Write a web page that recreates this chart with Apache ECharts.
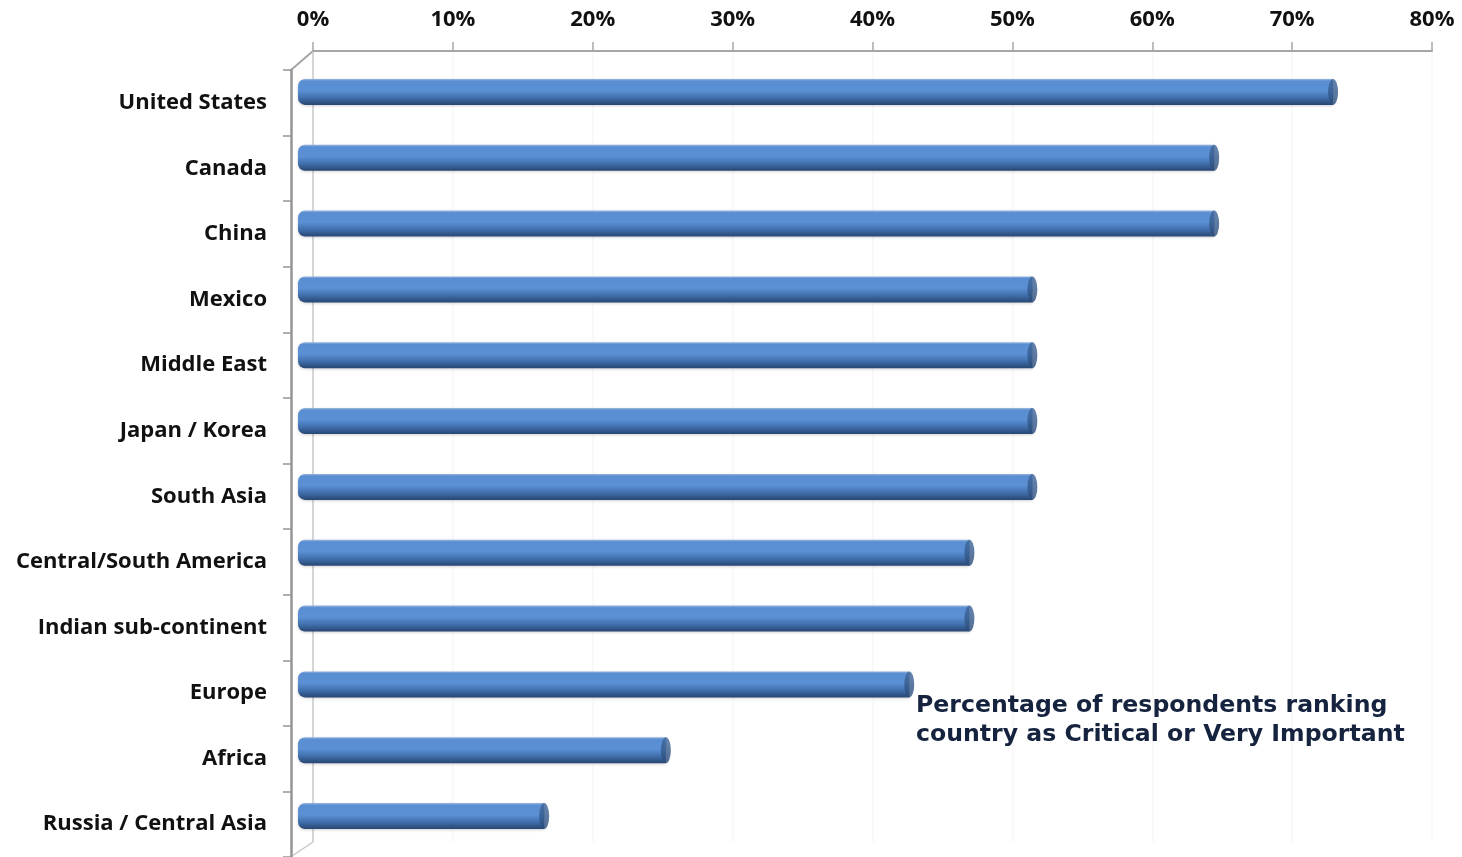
<!DOCTYPE html>
<html>
<head>
<meta charset="utf-8">
<title>Country importance</title>
<script src="https://cdn.jsdelivr.net/npm/echarts@6/dist/echarts.min.js"></script>
<style>
  html, body { margin: 0; padding: 0; background: #fff; }
  #main { width: 1462px; height: 857px; }
</style>
</head>
<body>
<div id="main"></div>
<script>
  var countries = ['United States', 'Canada', 'China', 'Mexico', 'Middle East', 'Japan / Korea',
    'South Asia', 'Central/South America', 'Indian sub-continent', 'Europe', 'Africa', 'Russia / Central Asia'];
  var shares = [74, 65.5, 65.5, 52.5, 52.5, 52.5, 52.5, 48, 48, 43.7, 26.3, 17.6];
  var axisMin = 0, axisMax = 80, axisStep = 10;
  var note = ['Percentage of respondents ranking', 'country as Critical or Very Important'];

  var chart = echarts.init(document.getElementById('main'));

  var gridColors = [];
  for (var i = 0; i <= (axisMax - axisMin) / axisStep; i++) {
    gridColors.push(i === 0 ? '#c8c8c8' : '#f7f7f7');
  }

  // end caps sit at the tip of each bar
  var caps = [];
  for (var j = 0; j < shares.length; j++) {
    caps.push([shares[j], countries[j]]);
  }

  var option = {
    backgroundColor: '#fff',
    animation: false,
    grid: [
      { left: 291, top: 70, width: 1119, height: 789 },   // category axis
      { left: 313, top: 51, right: 30, bottom: 15 },      // back wall + top axis
      { left: 298, top: 59, width: 1119, height: 790 }    // bars (front)
    ],
    xAxis: [
      { gridIndex: 0, type: 'value', min: axisMin, max: axisMax, show: false },
      {
        gridIndex: 1, type: 'value', position: 'top',
        min: axisMin, max: axisMax, interval: axisStep,
        axisLine: { show: true, onZero: false, lineStyle: { color: '#a6a6a6', width: 2 } },
        axisTick: { show: true, length: 9, lineStyle: { color: '#a6a6a6', width: 1.5 } },
        axisLabel: {
          formatter: '{value}%', margin: 20,
          fontFamily: 'Open Sans', fontWeight: 'bold', fontSize: 22, color: '#111'
        },
        splitLine: { show: true, lineStyle: { color: gridColors, width: 1.5 } }
      },
      { gridIndex: 2, type: 'value', min: axisMin, max: axisMax, show: false }
    ],
    yAxis: [
      {
        gridIndex: 0, type: 'category', inverse: true, data: countries,
        axisLine: { show: true, lineStyle: { color: '#959595', width: 2.5 } },
        axisTick: { show: true, length: 8, lineStyle: { color: '#959595', width: 1.5 } },
        axisLabel: {
          margin: 24, padding: [4, 0, 0, 0],
          fontFamily: 'Open Sans', fontWeight: 'bold', fontSize: 22, color: '#111'
        },
        splitLine: { show: false }
      },
      { gridIndex: 1, type: 'value', show: false, min: 0, max: 1 },
      { gridIndex: 2, type: 'category', inverse: true, data: countries, show: false }
    ],
    series: [
      {
        type: 'bar',
        xAxisIndex: 2, yAxisIndex: 2,
        data: shares,
        barWidth: 26,
        itemStyle: {
          borderRadius: [7, 0, 0, 7],
          color: new echarts.graphic.LinearGradient(0, 0, 0, 1, [
            { offset: 0, color: '#9ab8df' },
            { offset: 0.08, color: '#5a8ed2' },
            { offset: 0.45, color: '#5b90d4' },
            { offset: 0.72, color: '#4170ae' },
            { offset: 1, color: '#284672' }
          ]),
          shadowColor: 'rgba(0,0,0,0.18)',
          shadowBlur: 3,
          shadowOffsetY: 1
        }
      },
      {
        type: 'scatter',
        xAxisIndex: 2, yAxisIndex: 2,
        data: caps,
        symbol: 'circle',
        symbolSize: [10, 26],
        itemStyle: {
          color: new echarts.graphic.LinearGradient(0, 0, 0, 1, [
            { offset: 0, color: '#3f679c' },
            { offset: 1, color: '#2b4b78' }
          ])
        },
        z: 3
      }
    ],
    graphic: [
      {
        type: 'line', silent: true,
        shape: { x1: 291, y1: 70, x2: 313, y2: 51 },
        style: { stroke: '#a6a6a6', lineWidth: 2 }
      },
      {
        type: 'line', silent: true,
        shape: { x1: 292, y1: 856, x2: 313, y2: 842 },
        style: { stroke: '#c8c8c8', lineWidth: 1.5 }
      },
      {
        type: 'text', left: 916, top: 691, z: 100,
        style: {
          text: note.join('\n'),
          font: 'bold 23.6px "DejaVu Sans"',
          lineHeight: 29,
          fill: '#16233f'
        }
      }
    ]
  };

  chart.setOption(option);
</script>
</body>
</html>
